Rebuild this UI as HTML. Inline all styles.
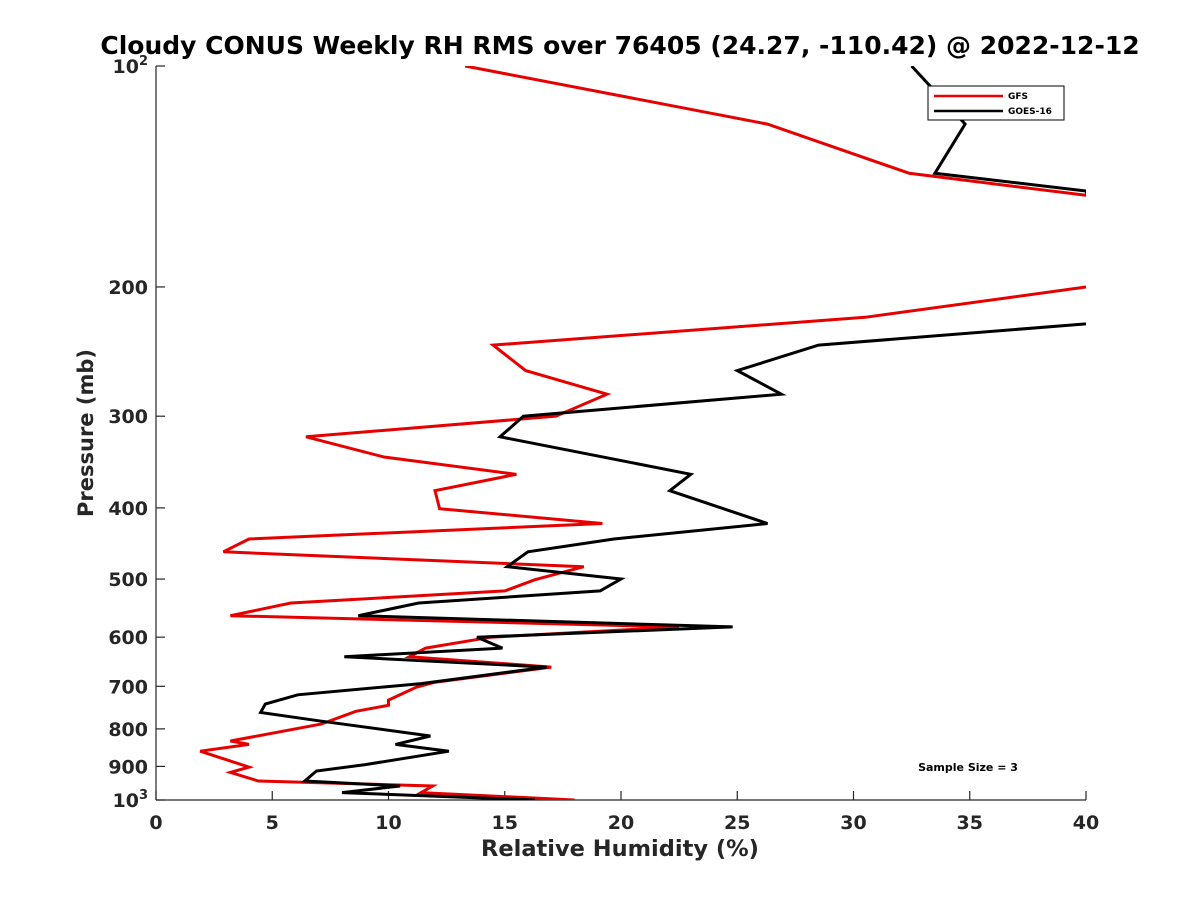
<!DOCTYPE html>
<html><head><meta charset="utf-8"><style>
html,body{margin:0;padding:0;background:#fff;}
svg{display:block;font-family:"DejaVu Sans","Liberation Sans",sans-serif;font-weight:bold;}
</style></head><body>
<svg id="chart" width="1200" height="900" viewBox="0 0 1200 900">
<defs><clipPath id="plotclip"><rect x="156" y="66" width="930" height="734"/></clipPath></defs>
<text x="620" y="54" font-size="25" text-anchor="middle" fill="#000">Cloudy CONUS Weekly RH RMS over 76405 (24.27, -110.42) @ 2022-12-12</text>
<g id="axes"></g>
<g id="series" clip-path="url(#plotclip)"></g>
<text x="620" y="856" font-size="22.5" text-anchor="middle" fill="#262626">Relative Humidity (%)</text>
<text transform="translate(93,433) rotate(-90)" font-size="21" text-anchor="middle" fill="#262626">Pressure (mb)</text>
<text x="968" y="771" font-size="11" text-anchor="middle" fill="#000">Sample Size = 3</text>
<g>
<rect x="928" y="86" width="136" height="34" fill="#fff" stroke="#000" stroke-width="1"/>
<line x1="934" y1="96" x2="1003" y2="96" stroke="#e00" stroke-width="2.5"/>
<text x="1008" y="99" font-size="9">GFS</text>
<line x1="934" y1="111" x2="1003" y2="111" stroke="#000" stroke-width="2.5"/>
<text x="1008" y="114" font-size="9">GOES-16</text>
</g>
</svg>
<script>
const xTicks = [0,5,10,15,20,25,30,35,40];
const yTicks = [100,200,300,400,500,600,700,800,900,1000];
const yTickLabels = ["10^2","200","300","400","500","600","700","800","900","10^3"];
const gfsPressure = [100,120,140,150,175,200,220,240,260,280,300,320,341,360,379,401,420,441,459,481,501,519,539,561,581,600,621,638,659,691,702,731,743,757,788,831,840,858,902,917,942,957,977,1000];
const gfsRH = [13.3,26.3,32.4,40,48,40,30.5,14.5,15.9,19.4,17.2,6.45,9.8,15.5,12.0,12.2,19.2,4.0,2.9,18.4,16.3,15.0,5.8,3.2,22.5,14.4,11.6,10.9,17.0,12.0,11.2,10.0,10.0,8.6,7.1,3.2,4.0,1.9,4.0,3.2,4.4,11.9,11.4,18.0];
const goesPressure = [100,120,140,148,222,240,260,280,300,320,360,379,420,441,459,481,500,519,539,561,581,600,621,638,659,694,719,740,760,780,818,840,858,895,913,942,957,977,1000];
const goesRH = [32.5,34.8,33.5,40,42,28.5,25.0,26.9,15.8,14.8,23.0,22.1,26.3,19.7,16.0,15.1,20.0,19.1,11.3,8.7,24.8,13.8,14.9,8.1,16.8,11.4,6.1,4.7,4.5,7.0,11.8,10.3,12.6,9.0,6.9,6.4,10.5,8.0,16.3];

const NS="http://www.w3.org/2000/svg";
const X0=156,X1=1086,Y0=800,Y1=66;
function xs(v){return X0+(v-0)/(40-0)*(X1-X0);}
function ys(p){return Y1+(Math.log10(p)-2)/(3-2)*(Y0-Y1);}
function mk(tag,attrs,parent){const e=document.createElementNS(NS,tag);for(const k in attrs)e.setAttribute(k,attrs[k]);parent.appendChild(e);return e;}
const axes=document.getElementById('axes');
let ax=mk('line',{x1:X0,y1:Y1,x2:X0,y2:Y0,stroke:'#262626','stroke-width':1.2},axes);


ax=mk('line',{x1:X0,y1:Y0,x2:X1,y2:Y0,stroke:'#262626','stroke-width':1.2},axes);


xTicks.forEach(v=>{
  const x=xs(v);
  const t=mk('line',{x1:x,y1:Y0,x2:x,y2:Y0-9,stroke:'#262626','stroke-width':1.2},axes);
  
  
  const l=mk('text',{x:x,y:829,'font-size':19,'text-anchor':'middle',fill:'#262626'},axes);
  
  
  l.textContent=v;
});
yTicks.forEach((p,i)=>{
  const y=ys(p);
  const t=mk('line',{x1:X0,y1:y,x2:X0+9,y2:y,stroke:'#262626','stroke-width':1.2},axes);
  
  
  const lab=yTickLabels[i];
  const l=mk('text',{x:148,y:y+7,'font-size':19,'text-anchor':'end',fill:'#262626'},axes);
  
  
  if(lab.indexOf('^')>=0){
    const parts=lab.split('^');
    const a=mk('tspan',{},l);a.textContent=parts[0];
    const b=mk('tspan',{dy:-8,'font-size':13},l);b.textContent=parts[1];
  } else l.textContent=lab;
});
function drawSeries(pr,vals,color,name){
  const pts=pr.map((p,i)=>xs(vals[i]).toFixed(1)+','+ys(p).toFixed(1)).join(' ');
  const pl=mk('polyline',{points:pts,fill:'none',stroke:color,'stroke-width':3,'stroke-linejoin':'miter'},document.getElementById('series'));
  
  
}
drawSeries(gfsPressure,gfsRH,'#e60000','gfs-line');
drawSeries(goesPressure,goesRH,'#000','goes16-line');
</script>
</body></html>
